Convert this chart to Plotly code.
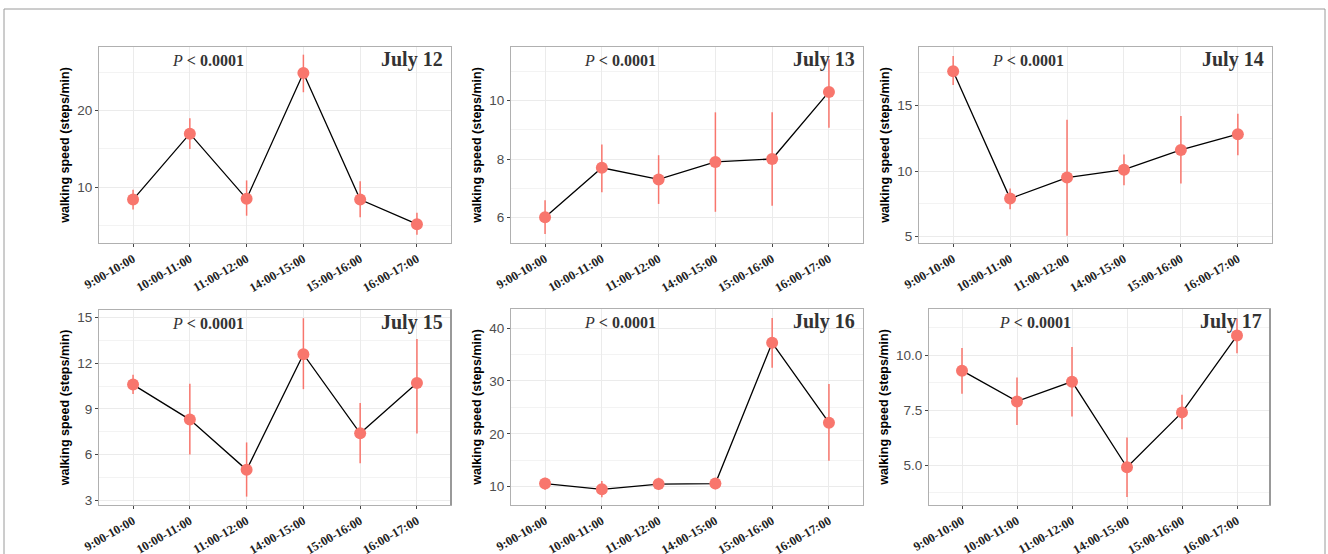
import plotly.graph_objects as go

# ---------------- data ----------------
periods = ["9:00-10:00", "10:00-11:00", "11:00-12:00", "14:00-15:00", "15:00-16:00", "16:00-17:00"]
days = ["July 12", "July 13", "July 14", "July 15", "July 16", "July 17"]

july12_mean = [8.4, 17.0, 8.5, 24.9, 8.4, 5.2]
july12_low = [7.1, 15.0, 6.3, 22.4, 6.1, 3.8]
july12_high = [9.7, 19.0, 10.9, 27.3, 10.8, 6.7]

july13_mean = [6.0, 7.7, 7.3, 7.9, 8.0, 10.3]
july13_low = [5.43, 6.86, 6.46, 6.19, 6.4, 9.07]
july13_high = [6.59, 8.5, 8.13, 9.6, 9.6, 11.42]

july14_mean = [17.6, 7.9, 9.5, 10.1, 11.6, 12.8]
july14_low = [16.55, 7.08, 5.07, 8.91, 9.04, 11.2]
july14_high = [18.76, 8.66, 13.91, 11.25, 14.18, 14.35]

july15_mean = [10.6, 8.3, 5.0, 12.6, 7.4, 10.7]
july15_low = [9.99, 6.0, 3.24, 10.3, 5.43, 7.38]
july15_high = [11.25, 10.65, 6.8, 14.96, 9.39, 13.6]

july16_mean = [10.6, 9.5, 10.5, 10.6, 37.2, 22.1]
july16_low = [9.4, 8.0, 9.4, 9.5, 32.5, 14.9]
july16_high = [11.7, 11.1, 11.7, 11.6, 41.9, 29.4]

july17_mean = [9.3, 7.9, 8.8, 4.9, 7.4, 10.9]
july17_low = [8.25, 6.83, 7.21, 3.55, 6.63, 10.09]
july17_high = [10.33, 8.99, 10.38, 6.26, 8.2, 11.68]

p_label = "<i>P</i><b> &lt; 0.0001</b>"
y_title = "walking speed (steps/min)"

# ---------------- layout settings ----------------
W, H = 1328, 554
panels = [
    # (mean, low, high, x0px, x1px, y0px(top), y1px(bottom), yrange, dtick, tickformat)
    (july12_mean, july12_low, july12_high, 99, 451, 47, 243, [2.74, 28.3], 10, None),
    (july13_mean, july13_low, july13_high, 511, 863, 47, 243, [5.12, 11.84], 2, None),
    (july14_mean, july14_low, july14_high, 919, 1272, 47, 243, [4.52, 19.44], 5, None),
    (july15_mean, july15_low, july15_high, 99, 451, 310, 505, [2.69, 15.5], 3, None),
    (july16_mean, july16_low, july16_high, 511, 863, 309, 505, [6.54, 43.6], 10, None),
    (july17_mean, july17_low, july17_high, 929, 1270, 309, 505, [3.18, 12.11], 2.5, ".1f"),
]
dark_right_edge = {4, 6}

salmon = "#F8766D"
fig = go.Figure()
layout = dict(
    width=W, height=H, autosize=False,
    margin=dict(l=0, r=0, t=0, b=0, pad=0),
    paper_bgcolor="white", plot_bgcolor="white",
    showlegend=False,
)
annotations = []
shapes = []

for i, (mean, low, high, x0, x1, y0, y1, yr, dt, tf) in enumerate(panels):
    n = i + 1
    xa = "x" if n == 1 else f"x{n}"
    ya = "y" if n == 1 else f"y{n}"
    xkey = "xaxis" if n == 1 else f"xaxis{n}"
    ykey = "yaxis" if n == 1 else f"yaxis{n}"

    fig.add_trace(go.Scatter(
        x=periods, y=mean, mode="lines",
        line=dict(color="black", width=1.3),
        xaxis=xa, yaxis=ya, hoverinfo="skip",
    ))
    fig.add_trace(go.Scatter(
        x=periods, y=mean, mode="markers",
        marker=dict(color=salmon, size=12),
        error_y=dict(type="data", symmetric=False,
                     array=[h - m for h, m in zip(high, mean)],
                     arrayminus=[m - l for m, l in zip(mean, low)],
                     color=salmon, thickness=1.5, width=0),
        xaxis=xa, yaxis=ya,
    ))

    layout[xkey] = dict(
        domain=[x0 / W, x1 / W], anchor=ya, automargin=False,
        type="category", range=[-0.6, 5.6],
        showgrid=True, gridcolor="#ebebeb", gridwidth=1,
        showline=True, mirror=True, linecolor="#b0b0b0", linewidth=1,
        ticks="outside", ticklen=3, tickcolor="#444", tickwidth=1,
        tickangle=-30,
        tickfont=dict(family="Liberation Serif", size=12.5, color="#222", weight="bold"),
        zeroline=False, fixedrange=True,
    )
    ycfg = dict(
        domain=[1 - y1 / H, 1 - y0 / H], anchor=xa, automargin=False,
        range=yr, tick0=0, dtick=dt,
        showgrid=True, gridcolor="#ebebeb", gridwidth=1,
        minor=dict(showgrid=True, gridcolor="#f3f3f3", gridwidth=0.8, dtick=dt / 2, tick0=0),
        showline=True, mirror=True, linecolor="#b0b0b0", linewidth=1,
        ticks="outside", ticklen=3, tickcolor="#444", tickwidth=1,
        tickfont=dict(family="Liberation Sans", size=13.5, color="#4d4d4d"),
        title=dict(text=y_title, standoff=4,
                   font=dict(family="Liberation Sans", size=12.5, color="black", weight="bold")),
        zeroline=False, fixedrange=True,
    )
    if tf:
        ycfg["tickformat"] = tf
    layout[ykey] = ycfg

    annotations.append(dict(
        text=p_label, xref=f"{xa} domain", yref=f"{ya} domain",
        x=0.31, y=0.93, xanchor="center", yanchor="middle", showarrow=False,
        font=dict(family="Liberation Serif", size=16, color="#333"),
    ))
    annotations.append(dict(
        text=f"<b>{days[i]}</b>", xref=f"{xa} domain", yref=f"{ya} domain",
        x=0.983, y=0.935, xanchor="right", yanchor="middle", showarrow=False,
        font=dict(family="Liberation Serif", size=20, color="#333"),
    ))
    if n in dark_right_edge:
        shapes.append(dict(type="line", xref=f"{xa} domain", yref=f"{ya} domain",
                           x0=1, x1=1, y0=0, y1=1,
                           line=dict(color="#999999", width=2)))

# outer figure frame
shapes.append(dict(type="rect", xref="paper", yref="paper",
                   x0=4 / W, x1=1325 / W, y0=-0.05, y1=1 - 9 / H,
                   line=dict(color="#9a9a9a", width=1), fillcolor="rgba(0,0,0,0)"))

layout["annotations"] = annotations
layout["shapes"] = shapes
fig.update_layout(**layout)
fig.write_html("out.html", config={"displayModeBar": False},
               post_script="document.body.style.margin='0';document.body.style.overflow='hidden';")
